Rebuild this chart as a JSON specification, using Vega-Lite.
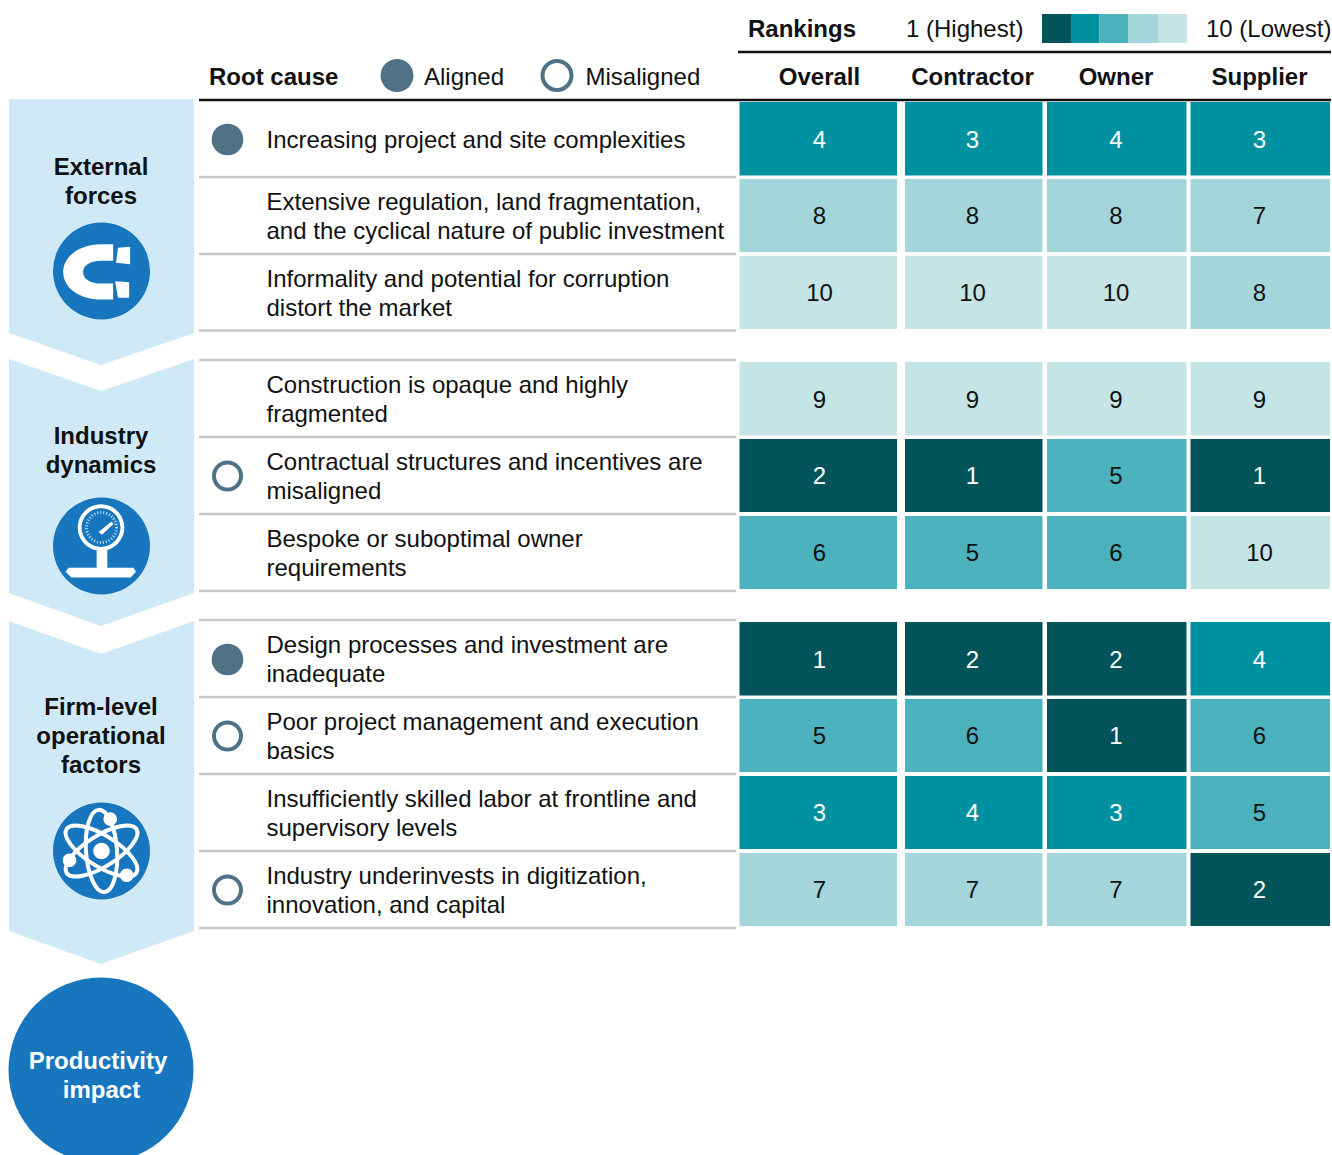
{
"$schema":"https://vega.github.io/schema/vega-lite/v6.json",
"width":1332,"height":1155,"padding":0,"autosize":{"type":"none"},"background":"white",
"config":{"view":{"stroke":null},"text":{"font":"Liberation Sans","lineHeight":29,"lineBreak":"\n"}},
"datasets":{
"stakeholders":[
{"stakeholder":"Overall","x":739.5,"x2":897,"xc":819.5,"yh":78},
{"stakeholder":"Contractor","x":905,"x2":1042.5,"xc":972.5,"yh":78},
{"stakeholder":"Owner","x":1047,"x2":1186.5,"xc":1116,"yh":78},
{"stakeholder":"Supplier","x":1190.5,"x2":1330,"xc":1259.5,"yh":78}],
"causes":[
{"row":1,"cause":"Increasing project and site complexities","alignment":"Aligned","y":139.5,"yLine":141,"top":102,"bottom":175.5},
{"row":2,"cause":"Extensive regulation, land fragmentation,\nand the cyclical nature of public investment","alignment":"None","y":216,"yLine":203,"top":179,"bottom":252},
{"row":3,"cause":"Informality and potential for corruption\ndistort the market","alignment":"None","y":293,"yLine":280,"top":256,"bottom":329},
{"row":4,"cause":"Construction is opaque and highly\nfragmented","alignment":"None","y":399.5,"yLine":386,"top":362,"bottom":435.5},
{"row":5,"cause":"Contractual structures and incentives are\nmisaligned","alignment":"Misaligned","y":476,"yLine":463,"top":439,"bottom":512},
{"row":6,"cause":"Bespoke or suboptimal owner\nrequirements","alignment":"None","y":553,"yLine":540,"top":516,"bottom":589},
{"row":7,"cause":"Design processes and investment are\ninadequate","alignment":"Aligned","y":659.5,"yLine":646,"top":622,"bottom":695.5},
{"row":8,"cause":"Poor project management and execution\nbasics","alignment":"Misaligned","y":736,"yLine":723,"top":699,"bottom":772},
{"row":9,"cause":"Insufficiently skilled labor at frontline and\nsupervisory levels","alignment":"None","y":813,"yLine":800,"top":776,"bottom":849},
{"row":10,"cause":"Industry underinvests in digitization,\ninnovation, and capital","alignment":"Misaligned","y":890,"yLine":877,"top":853,"bottom":926}],
"ranks":[
{"row":1,"stakeholder":"Overall","rank":4},{"row":1,"stakeholder":"Contractor","rank":3},{"row":1,"stakeholder":"Owner","rank":4},{"row":1,"stakeholder":"Supplier","rank":3},
{"row":2,"stakeholder":"Overall","rank":8},{"row":2,"stakeholder":"Contractor","rank":8},{"row":2,"stakeholder":"Owner","rank":8},{"row":2,"stakeholder":"Supplier","rank":7},
{"row":3,"stakeholder":"Overall","rank":10},{"row":3,"stakeholder":"Contractor","rank":10},{"row":3,"stakeholder":"Owner","rank":10},{"row":3,"stakeholder":"Supplier","rank":8},
{"row":4,"stakeholder":"Overall","rank":9},{"row":4,"stakeholder":"Contractor","rank":9},{"row":4,"stakeholder":"Owner","rank":9},{"row":4,"stakeholder":"Supplier","rank":9},
{"row":5,"stakeholder":"Overall","rank":2},{"row":5,"stakeholder":"Contractor","rank":1},{"row":5,"stakeholder":"Owner","rank":5},{"row":5,"stakeholder":"Supplier","rank":1},
{"row":6,"stakeholder":"Overall","rank":6},{"row":6,"stakeholder":"Contractor","rank":5},{"row":6,"stakeholder":"Owner","rank":6},{"row":6,"stakeholder":"Supplier","rank":10},
{"row":7,"stakeholder":"Overall","rank":1},{"row":7,"stakeholder":"Contractor","rank":2},{"row":7,"stakeholder":"Owner","rank":2},{"row":7,"stakeholder":"Supplier","rank":4},
{"row":8,"stakeholder":"Overall","rank":5},{"row":8,"stakeholder":"Contractor","rank":6},{"row":8,"stakeholder":"Owner","rank":1},{"row":8,"stakeholder":"Supplier","rank":6},
{"row":9,"stakeholder":"Overall","rank":3},{"row":9,"stakeholder":"Contractor","rank":4},{"row":9,"stakeholder":"Owner","rank":3},{"row":9,"stakeholder":"Supplier","rank":5},
{"row":10,"stakeholder":"Overall","rank":7},{"row":10,"stakeholder":"Contractor","rank":7},{"row":10,"stakeholder":"Owner","rank":7},{"row":10,"stakeholder":"Supplier","rank":2}]
},
"encoding":{
"x":{"field":"x","type":"quantitative","axis":null,"scale":{"domain":[0,1332],"range":[0,1332]}},
"y":{"field":"y","type":"quantitative","axis":null,"scale":{"domain":[0,1155],"range":[0,1155]}}
},
"layer":[
{"data":{"values":[
{"group":"External forces","x":9,"y":99,"y2":333},{"group":"External forces","x":101,"y":99,"y2":365},{"group":"External forces","x":194,"y":99,"y2":333},
{"group":"Industry dynamics","x":9,"y":359,"y2":593},{"group":"Industry dynamics","x":101,"y":391,"y2":626},{"group":"Industry dynamics","x":194,"y":359,"y2":593},
{"group":"Firm-level operational factors","x":9,"y":621,"y2":931},{"group":"Firm-level operational factors","x":101,"y":654,"y2":964},{"group":"Firm-level operational factors","x":194,"y":621,"y2":931}]},
"mark":{"type":"area","color":"#cfe9f6","opacity":1},
"encoding":{"y2":{"field":"y2"},"detail":{"field":"group"}}},
{"data":{"values":[{"x":199,"x2":736,"y":177},{"x":199,"x2":736,"y":254},{"x":199,"x2":736,"y":330.5},{"x":199,"x2":736,"y":360},{"x":199,"x2":736,"y":437},{"x":199,"x2":736,"y":514},{"x":199,"x2":736,"y":591},{"x":199,"x2":736,"y":620},{"x":199,"x2":736,"y":697},{"x":199,"x2":736,"y":774},{"x":199,"x2":736,"y":851},{"x":199,"x2":736,"y":928}]},
"mark":{"type":"rule","color":"#c8c8c8","strokeWidth":2.5},"encoding":{"x2":{"field":"x2"}}},
{"data":{"values":[{"x":738,"x2":1331,"y":52},{"x":199,"x2":1331,"y":100}]},
"mark":{"type":"rule","color":"#111111","strokeWidth":2.5},"encoding":{"x2":{"field":"x2"}}},
{"data":{"name":"ranks"},
"transform":[
{"lookup":"stakeholder","from":{"data":{"name":"stakeholders"},"key":"stakeholder","fields":["x","x2"]}},
{"lookup":"row","from":{"data":{"name":"causes"},"key":"row","fields":["top","bottom"]},"as":["y","y2"]}],
"mark":{"type":"rect"},
"encoding":{"x2":{"field":"x2"},"y2":{"field":"y2"},
"fill":{"field":"rank","type":"ordinal","legend":null,"scale":{"domain":[1,2,3,4,5,6,7,8,9,10],"range":["#03535a","#03535a","#0091a0","#0091a0","#4cb2bd","#4cb2bd","#a3d5da","#a3d5da","#c5e4e6","#c5e4e6"]}}}},
{"data":{"values":[{"rank":1,"x":1042,"x2":1071,"y":14,"y2":43},{"rank":3,"x":1071,"x2":1099.5,"y":14,"y2":43},{"rank":5,"x":1099.5,"x2":1128.5,"y":14,"y2":43},{"rank":7,"x":1128.5,"x2":1158,"y":14,"y2":43},{"rank":9,"x":1158,"x2":1187,"y":14,"y2":43}]},
"mark":{"type":"rect"},
"encoding":{"x2":{"field":"x2"},"y2":{"field":"y2"},
"fill":{"field":"rank","type":"ordinal","legend":null,"scale":{"domain":[1,2,3,4,5,6,7,8,9,10],"range":["#03535a","#03535a","#0091a0","#0091a0","#4cb2bd","#4cb2bd","#a3d5da","#a3d5da","#c5e4e6","#c5e4e6"]}}}},
{"data":{"name":"ranks"},
"transform":[
{"lookup":"stakeholder","from":{"data":{"name":"stakeholders"},"key":"stakeholder","fields":["xc"]},"as":["x"]},
{"lookup":"row","from":{"data":{"name":"causes"},"key":"row","fields":["y"]}},
{"calculate":"datum.y+1","as":"y"}],
"mark":{"type":"text","fontSize":24,"align":"center","baseline":"middle"},
"encoding":{"text":{"field":"rank","type":"quantitative"},
"color":{"condition":{"test":"datum.rank<=4","value":"#ffffff"},"value":"#111111"}}},
{"data":{"name":"causes"},
"transform":[{"calculate":"266.5","as":"x"},{"calculate":"datum.yLine","as":"y"}],
"mark":{"type":"text","fontSize":24,"align":"left","baseline":"middle","color":"#111111"},
"encoding":{"text":{"field":"cause"}}},
{"data":{"name":"causes"},"transform":[{"filter":"datum.alignment==='Aligned'"},{"calculate":"227.5","as":"x"}],
"mark":{"type":"point","shape":"circle","filled":true,"color":"#4f7286","opacity":1,"size":1000}},
{"data":{"name":"causes"},"transform":[{"filter":"datum.alignment==='Misaligned'"},{"calculate":"227.5","as":"x"}],
"mark":{"type":"point","shape":"circle","filled":false,"color":"#4f7286","opacity":1,"size":729,"strokeWidth":4}},
{"data":{"values":[{"alignment":"Aligned","x":397,"y":75.5}]},
"mark":{"type":"point","shape":"circle","filled":true,"color":"#4f7286","opacity":1,"size":1089}},
{"data":{"values":[{"alignment":"Misaligned","x":557,"y":75.5}]},
"mark":{"type":"point","shape":"circle","filled":false,"color":"#4f7286","opacity":1,"size":841,"strokeWidth":4}},
{"data":{"values":[{"label":"Aligned","x":424,"y":78},{"label":"Misaligned","x":585.5,"y":78},{"label":"1 (Highest)","x":906,"y":30},{"label":"10 (Lowest)","x":1206,"y":30}]},
"mark":{"type":"text","fontSize":24,"align":"left","baseline":"middle","color":"#111111"},
"encoding":{"text":{"field":"label"}}},
{"data":{"values":[{"label":"Root cause","x":209,"y":78},{"label":"Rankings","x":748,"y":30}]},
"mark":{"type":"text","fontSize":24,"fontWeight":"bold","align":"left","baseline":"middle","color":"#111111"},
"encoding":{"text":{"field":"label"}}},
{"data":{"name":"stakeholders"},"transform":[{"calculate":"datum.xc","as":"x"},{"calculate":"datum.yh","as":"y"}],
"mark":{"type":"text","fontSize":24,"fontWeight":"bold","align":"center","baseline":"middle","color":"#111111"},
"encoding":{"text":{"field":"stakeholder"}}},
{"data":{"values":[{"label":"External\nforces","x":101,"y":168},{"label":"Industry\ndynamics","x":101,"y":437},{"label":"Firm-level\noperational\nfactors","x":101,"y":708}]},
"mark":{"type":"text","fontSize":24,"fontWeight":"bold","align":"center","baseline":"middle","color":"#111111"},
"encoding":{"text":{"field":"label"}}},
{"data":{"values":[{"impact":"Productivity impact","x":101,"y":1070}]},
"mark":{"type":"point","shape":"circle","filled":true,"color":"#1776bd","opacity":1,"size":34225}},
{"data":{"values":[{"label":"Productivity","x":98,"y":1062},{"label":"impact","x":101.5,"y":1091}]},
"mark":{"type":"text","fontSize":24,"fontWeight":"bold","align":"center","baseline":"middle","color":"#ffffff"},
"encoding":{"text":{"field":"label"}}},
{"data":{"values":[{"icon":"magnet","x":101.5,"y":271},{"icon":"gauge","x":101.5,"y":546},{"icon":"atom","x":101.5,"y":851}]},
"mark":{"type":"point","shape":"circle","filled":true,"color":"#1776bd","opacity":1,"size":9409}},
{"data":{"values":[{"icon":"magnet","x":101.5,"y":271}]},
"mark":{"type":"point","filled":true,"color":"#ffffff","opacity":1,"size":9409,
"shape":"M.24 -.55 L0 -.55 C-.45 -.55 -.79 -.3 -.79 .02 C-.79 .35 -.45 .59 0 .59 L.24 .59 L.24 .26 L0 .26 C-.22 .26 -.38 .17 -.38 .02 C-.38 -.12 -.22 -.21 0 -.21 L.24 -.21 Z M.34 -.48 L.59 -.5 L.59 -.14 L.3 -.17 Z M.28 .21 L.57 .23 L.57 .55 L.34 .55 Z"}},
{"data":{"values":[{"icon":"gauge","x":101.5,"y":546}]},
"mark":{"type":"point","filled":true,"color":"#ffffff","opacity":1,"size":9409,
"shape":"M-.49 -.38 A.48 .48 0 1 1 .47 -.38 A.48 .48 0 1 1 -.49 -.38 Z M-.41 -.38 A.4 .4 0 1 0 .39 -.38 A.4 .4 0 1 0 -.41 -.38 Z M-.1 .07 L.12 .07 L.12 .45 L.66 .45 L.71 .53 L.6 .65 L-.62 .65 L-.74 .53 L-.68 .45 L-.1 .45 Z M-.06 -.29 L.2 -.5 L.25 -.46 L.01 -.23 Z"}},
{"data":{"values":[{"icon":"gauge","x":101.5,"y":527.5}]},
"mark":{"type":"point","shape":"circle","filled":false,"color":"#cfe3f2","opacity":1,"size":900,"strokeWidth":3,"strokeDash":[1,2]}},
{"data":{"values":[{"orbit":"a","tilt":32,"x":101.5,"y":851},{"orbit":"b","tilt":148,"x":101.5,"y":851},{"orbit":"c","tilt":86,"x":101.5,"y":851}]},
"mark":{"type":"point","filled":false,"color":"#ffffff","opacity":1,"size":9409,"strokeWidth":4,
"shape":"M-.85 0 A.85 .32 0 1 1 .85 0 A.85 .32 0 1 1 -.85 0 Z"},
"encoding":{"angle":{"field":"tilt","type":"quantitative","scale":null}}},
{"data":{"values":[{"icon":"atom","x":101.5,"y":851}]},
"mark":{"type":"point","filled":true,"color":"#ffffff","opacity":1,"size":9409,
"shape":"M-.17 0 A.17 .17 0 1 1 .17 0 A.17 .17 0 1 1 -.17 0 Z M.04 -.66 A.14 .14 0 1 1 .32 -.66 A.14 .14 0 1 1 .04 -.66 Z M-.8 .19 A.14 .14 0 1 1 -.52 .19 A.14 .14 0 1 1 -.8 .19 Z M.38 .5 A.14 .14 0 1 1 .66 .5 A.14 .14 0 1 1 .38 .5 Z"}}
]
}
